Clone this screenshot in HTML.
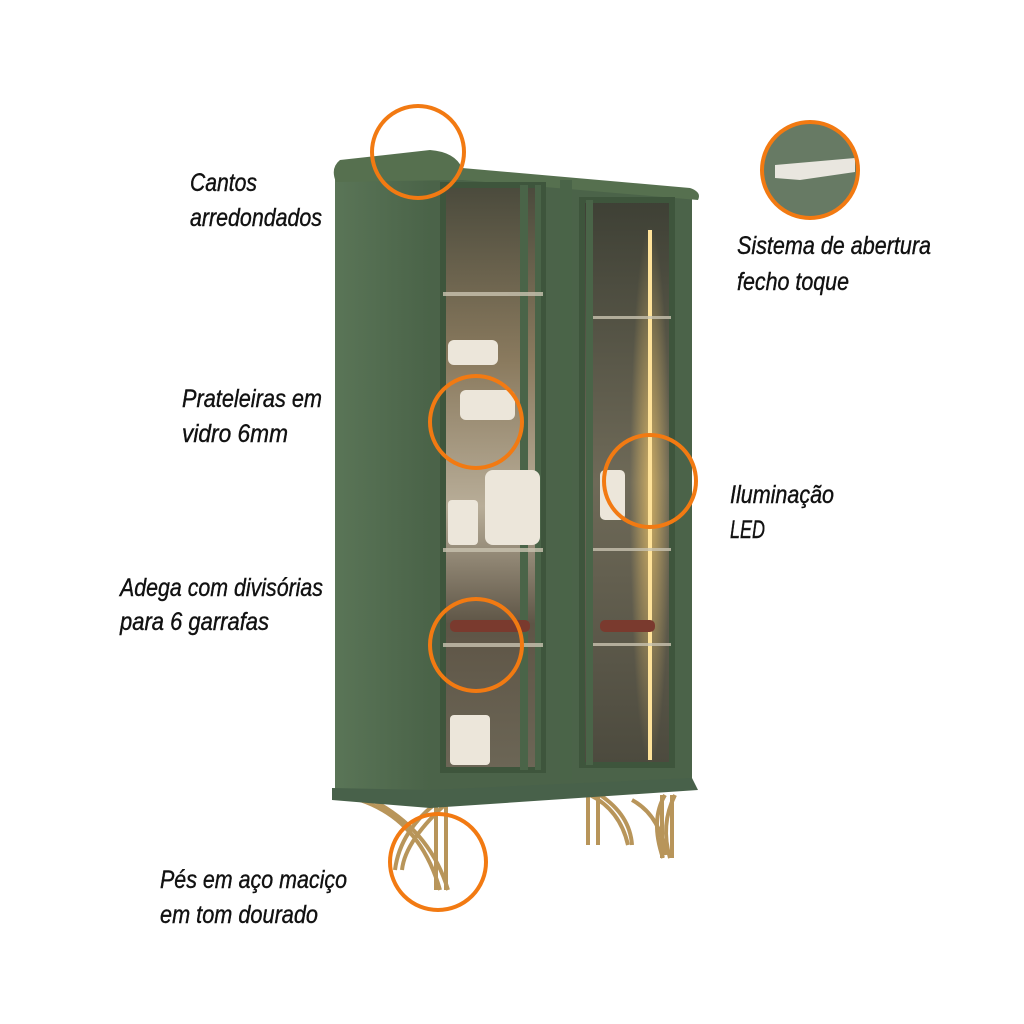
<!DOCTYPE html>
<html><head><meta charset="utf-8"><style>
html,body{margin:0;padding:0;background:#fff;width:1024px;height:1024px;overflow:hidden}
svg{display:block}
text{font-family:"Liberation Sans",sans-serif;font-style:italic;font-size:25px;fill:#111;stroke:#111;stroke-width:0.4}
</style></head><body>
<svg width="1024" height="1024" viewBox="0 0 1024 1024">
<defs>
<linearGradient id="side" x1="0" x2="1"><stop offset="0" stop-color="#5a7557"/><stop offset="1" stop-color="#4a6348"/></linearGradient>
<linearGradient id="glass" x1="0" y1="0" x2="0" y2="1"><stop offset="0" stop-color="#4a4a3c"/><stop offset="0.3" stop-color="#8a7a5e"/><stop offset="0.55" stop-color="#b8ad98"/><stop offset="0.75" stop-color="#5e5546"/><stop offset="1" stop-color="#6c6656"/></linearGradient>
<linearGradient id="glass2" x1="0" y1="0" x2="0" y2="1"><stop offset="0" stop-color="#3e4035"/><stop offset="0.5" stop-color="#6f6a58"/><stop offset="1" stop-color="#4c4a3e"/></linearGradient>
<radialGradient id="led" cx="0.5" cy="0.5" r="0.5"><stop offset="0" stop-color="#f3c86a" stop-opacity="0.7"/><stop offset="1" stop-color="#f3c86a" stop-opacity="0"/></radialGradient>
</defs>
<g stroke="#b8955a" stroke-width="4" fill="none">
<path d="M360 800 Q420 820 440 890"/><path d="M372 800 Q430 830 448 890"/>
<path d="M440 800 Q400 830 395 870"/><path d="M450 800 Q405 840 402 870"/>
<line x1="436" y1="800" x2="436" y2="890"/><line x1="446" y1="800" x2="446" y2="890"/>
<path d="M590 795 Q620 810 628 845"/><path d="M600 795 Q630 815 632 845"/>
<line x1="588" y1="795" x2="588" y2="845"/><line x1="598" y1="795" x2="598" y2="845"/>
<path d="M665 795 Q650 820 663 858"/><path d="M675 795 Q660 825 670 858"/>
<line x1="662" y1="795" x2="662" y2="858"/><line x1="672" y1="795" x2="672" y2="858"/>
<path d="M632 800 Q660 815 666 855"/>
</g>
<polygon points="335,178 432,178 432,800 335,790" fill="url(#side)"/>
<polygon points="430,170 692,195 692,785 430,795" fill="#4b6349"/>
<path d="M340 160 L430 150 Q455 152 462 168 L690 188 Q702 192 698 200 L462 180 L336 182 Q330 168 340 160 Z" fill="#56704f"/>
<polygon points="332,788 430,790 692,778 698,790 430,808 332,800" fill="#48614a"/>
<rect x="443" y="185" width="100" height="585" fill="url(#glass)"/>
<rect x="443" y="185" width="100" height="585" fill="none" stroke="#3e553c" stroke-width="6"/>
<rect x="520" y="185" width="8" height="585" fill="#4a6448"/>
<rect x="535" y="185" width="6" height="585" fill="#4a6448"/>
<rect x="582" y="200" width="90" height="565" fill="url(#glass2)"/>
<rect x="582" y="200" width="90" height="565" fill="none" stroke="#3e553c" stroke-width="6"/>
<rect x="560" y="180" width="12" height="600" fill="#4a6448"/>
<rect x="586" y="200" width="7" height="565" fill="#4a6448"/>
<rect x="630" y="225" width="40" height="540" fill="url(#led)"/>
<rect x="648" y="230" width="4" height="530" fill="#ffe39a"/>
<g fill="#c9c3b0" opacity="0.8">
<rect x="443" y="292" width="100" height="4"/><rect x="443" y="548" width="100" height="4"/><rect x="443" y="643" width="100" height="4"/>
<rect x="593" y="316" width="78" height="3"/><rect x="593" y="548" width="78" height="3"/><rect x="593" y="643" width="78" height="3"/>
</g>
<g fill="#ece6da">
<rect x="448" y="340" width="50" height="25" rx="6"/><rect x="460" y="390" width="55" height="30" rx="6"/>
<rect x="485" y="470" width="55" height="75" rx="8"/><rect x="448" y="500" width="30" height="45" rx="4"/>
<rect x="450" y="715" width="40" height="50" rx="4"/><rect x="600" y="470" width="25" height="50" rx="5"/>
</g>
<g fill="#7a3a2e"><rect x="450" y="620" width="80" height="12" rx="5"/><rect x="600" y="620" width="55" height="12" rx="5"/></g>
<text x="190" y="191" textLength="67" lengthAdjust="spacingAndGlyphs">Cantos</text>
<text x="190" y="226" textLength="132" lengthAdjust="spacingAndGlyphs">arredondados</text>
<text x="737" y="254" textLength="194" lengthAdjust="spacingAndGlyphs">Sistema de abertura</text>
<text x="737" y="290" textLength="112" lengthAdjust="spacingAndGlyphs">fecho toque</text>
<text x="182" y="407" textLength="140" lengthAdjust="spacingAndGlyphs">Prateleiras em</text>
<text x="182" y="442" textLength="106" lengthAdjust="spacingAndGlyphs">vidro 6mm</text>
<text x="730" y="503" textLength="104" lengthAdjust="spacingAndGlyphs">Iluminação</text>
<text x="730" y="538" textLength="35" lengthAdjust="spacingAndGlyphs">LED</text>
<text x="120" y="596" textLength="203" lengthAdjust="spacingAndGlyphs">Adega com divisórias</text>
<text x="120" y="630" textLength="149" lengthAdjust="spacingAndGlyphs">para 6 garrafas</text>
<text x="160" y="888" textLength="187" lengthAdjust="spacingAndGlyphs">Pés em aço maciço</text>
<text x="160" y="923" textLength="158" lengthAdjust="spacingAndGlyphs">em tom dourado</text>
<circle cx="810" cy="170" r="47" fill="#677a64"/>
<polygon points="775,165 855,158 855,172 800,180 775,178" fill="#e9e6df"/>
<g fill="none" stroke="#f27a12" stroke-width="4">
<circle cx="418" cy="152" r="46"/><circle cx="810" cy="170" r="48"/>
<circle cx="476" cy="422" r="46"/><circle cx="650" cy="481" r="46"/>
<circle cx="476" cy="645" r="46"/><circle cx="438" cy="862" r="48"/>
</g>
</svg>
</body></html>
